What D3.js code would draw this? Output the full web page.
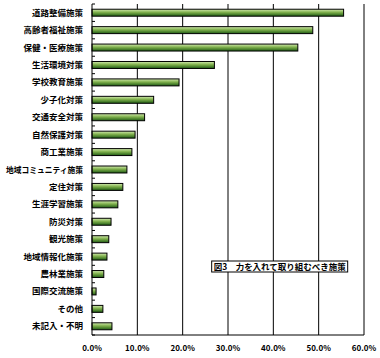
<!DOCTYPE html>
<html>
<head>
<meta charset="utf-8">
<script src="https://cdn.jsdelivr.net/npm/d3@7"></script>
<style>
  body { margin: 0; background: #fff; }
  text { font-family: "Noto Sans CJK JP", sans-serif; }
</style>
</head>
<body>
<script>
var categories = ["道路整備施策", "高齢者福祉施策", "保健・医療施策", "生活環境対策", "学校教育施策",
  "少子化対策", "交通安全対策", "自然保護対策", "商工業施策", "地域コミュニティ施策", "定住対策",
  "生涯学習施策", "防災対策", "観光施策", "地域情報化施策", "農林業施策", "国際交流施策", "その他", "未記入・不明"];
var values = [55.5, 48.7, 45.4, 27.0, 19.2, 13.6, 11.6, 9.5, 8.8, 7.7, 6.8, 5.7, 4.2, 3.7, 3.3, 2.6, 0.9, 2.4, 4.4];
var xTicks = [0, 10, 20, 30, 40, 50, 60];
var legendText = "図3　力を入れて取り組むべき施策";

function draw_vis(width, height) {
  var svg = d3.select("body")
    .append("svg")
    .attr("width", 380)
    .attr("height", 358);

  var defs = svg.append("defs");
  var grad = defs.append("linearGradient")
    .attr("id", "barGrad")
    .attr("x1", 0).attr("y1", 0).attr("x2", 0).attr("y2", 1);
  grad.append("stop").attr("offset", "0%").attr("stop-color", "#d4ecb0");
  grad.append("stop").attr("offset", "45%").attr("stop-color", "#7fb04c");
  grad.append("stop").attr("offset", "100%").attr("stop-color", "#1e5a14");

  var g = svg.append("g").attr("transform", "translate(92, 4)");

  var x = d3.scaleLinear().domain([0, 60]).range([0, width]);
  var y = d3.scaleBand().domain(categories).range([0, height]).paddingInner(0.6).paddingOuter(0.3);
  var yb = d3.scaleBand().domain(categories).range([0, height]);

  // gridlines
  g.selectAll(".grid")
    .data(xTicks.slice(1))
    .enter()
    .append("line")
      .attr("x1", function(d) { return x(d); })
      .attr("x2", function(d) { return x(d); })
      .attr("y1", 0)
      .attr("y2", height)
      .attr("stroke", "#000")
      .attr("stroke-width", 1);

  // bars
  g.selectAll(".bar")
    .data(values)
    .enter()
    .append("rect")
      .attr("class", "bar")
      .attr("x", 0)
      .attr("y", function(d, i) { return y(categories[i]); })
      .attr("width", function(d) { return x(d); })
      .attr("height", y.bandwidth())
      .attr("fill", "url(#barGrad)")
      .attr("stroke", "#000")
      .attr("stroke-width", 1);

  // left axis with ticks at category boundaries
  g.append("line")
    .attr("x1", 0).attr("x2", 0).attr("y1", 0).attr("y2", height)
    .attr("stroke", "#000");
  g.selectAll(".ytick")
    .data(d3.range(categories.length + 1))
    .enter()
    .append("line")
      .attr("x1", 0).attr("x2", 3)
      .attr("y1", function(i) { return i * yb.step(); })
      .attr("y2", function(i) { return i * yb.step(); })
      .attr("stroke", "#000");

  // bottom axis
  g.append("line")
    .attr("x1", 0).attr("x2", width).attr("y1", height).attr("y2", height)
    .attr("stroke", "#000");

  g.selectAll(".xlabel")
    .data(xTicks)
    .enter()
    .append("text")
      .attr("x", function(d) { return x(d); })
      .attr("y", height + 16)
      .attr("text-anchor", "middle")
      .attr("font-size", 8)
      .attr("font-weight", "bold")
      .text(function(d) { return d.toFixed(1) + "%"; });

  g.selectAll(".ylabel")
    .data(categories)
    .enter()
    .append("text")
      .attr("x", -9)
      .attr("y", function(d) { return yb(d) + yb.step() / 2 + 3; })
      .attr("text-anchor", "end")
      .attr("font-size", 8.5)
      .attr("font-weight", "bold")
      .text(function(d) { return d; })
      .each(function() {
        var len = this.getComputedTextLength();
        if (len > 77) {
          d3.select(this).attr("textLength", 77).attr("lengthAdjust", "spacingAndGlyphs");
        }
      });

  // legend box
  var lg = g.append("g").attr("transform", "translate(" + x(26.4) + ", 257)");
  lg.append("rect")
    .attr("width", 136).attr("height", 11)
    .attr("fill", "#fff").attr("stroke", "#000");
  lg.append("text")
    .attr("x", 2).attr("y", 9)
    .attr("font-size", 8.5)
    .attr("font-weight", "bold")
    .attr("textLength", 132)
    .attr("lengthAdjust", "spacingAndGlyphs")
    .text(legendText);
}

draw_vis(272, 331);
</script>
</body>
</html>
